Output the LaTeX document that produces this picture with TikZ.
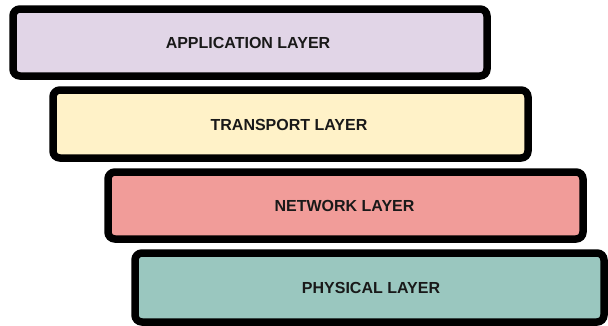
\documentclass[tikz,border=0pt]{standalone}
\usepackage{fontspec}
\setmainfont{Liberation Sans}
\definecolor{cpurple}{HTML}{E1D5E7}
\definecolor{cyellow}{HTML}{FFF2C8}
\definecolor{cred}{HTML}{F19C99}
\definecolor{cteal}{HTML}{9AC7BF}
\begin{document}
\begin{tikzpicture}[x=1pt,y=-1pt,
  layer/.style={draw=black, line width=7.5pt, rounded corners=7pt},
  lbl/.style={font=\fontsize{16}{19}\selectfont\bfseries, text=black!90}]
\useasboundingbox (0,0) rectangle (608,325);
\draw[layer, fill=cpurple] (13,9) rectangle (487,76);
\node[lbl] (app) at (248,43) {APPLICATION LAYER};
\draw[layer, fill=cyellow] (53,90) rectangle (528,158);
\node[lbl] (tra) at (289,125) {TRANSPORT LAYER};
\draw[layer, fill=cred] (108,172) rectangle (583,239);
\node[lbl] (net) at (344.5,206) {NETWORK LAYER};
\draw[layer, fill=cteal] (135,253) rectangle (604,322);
\node[lbl] (phy) at (371,288) {PHYSICAL LAYER};
\end{tikzpicture}
\end{document}
